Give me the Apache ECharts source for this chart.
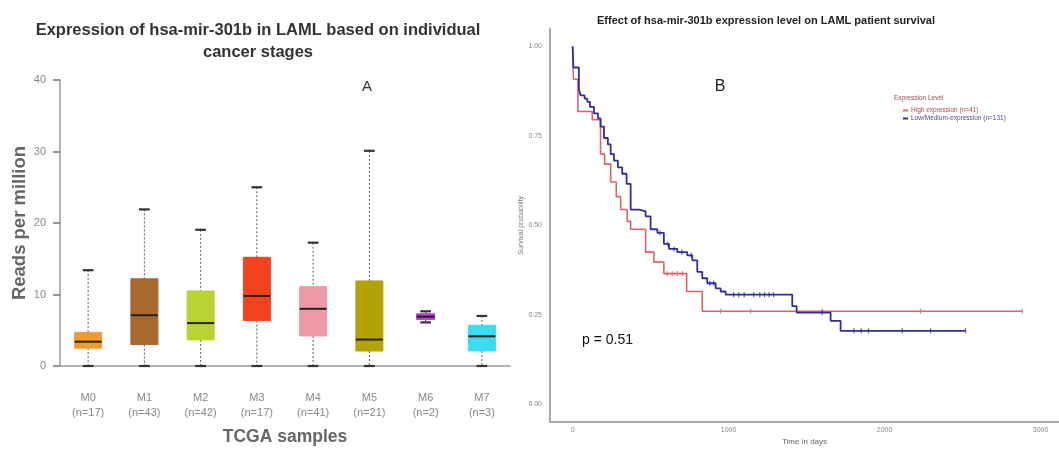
<!DOCTYPE html>
<html><head><meta charset="utf-8">
<script src="https://cdn.jsdelivr.net/npm/echarts@6/dist/echarts.min.js"></script>
<style>html,body{margin:0;padding:0;background:#fff}#c{width:1059px;height:451px}</style>
</head><body><div id="c"></div>
<script>
// ---------- Panel A: box plot data ----------
const stages = ['M0','M1','M2','M3','M4','M5','M6','M7'];
const stageN = [17,43,42,17,41,21,2,3];
const boxMin = [0,0,0,0,0,0,6.1,0];
const boxQ1 = [2.5,3.0,3.65,6.35,4.2,2.1,6.5,2.1];
const boxMedian = [3.4,7.1,6.0,9.8,8.0,3.7,6.9,4.15];
const boxQ3 = [4.7,12.2,10.5,15.2,11.1,11.9,7.3,5.7];
const boxMax = [13.4,21.9,19.05,25.0,17.25,30.1,7.65,7.0];
const yTicksA = [0,10,20,30,40];

// ---------- Panel B: Kaplan-Meier data ----------
const highTimes = [0,5,34,126,179,205,244,280,308,350,372,468,521,585,731,831,2883];
const highSurv  = [1,0.908,0.818,0.795,0.699,0.671,0.621,0.580,0.544,0.511,0.489,0.425,0.397,0.365,0.315,0.260,0.260];
const highCensor = [607,639,671,703,949,1141,1600,2231,2883];
const lowTimes = [0,5,40,51,77,94,111,137,162,179,201,226,244,265,290,318,346,372,425,468,500,543,585,618,671,735,767,799,831,863,917,949,981,1408,1436,1654,1718,2519];
const lowSurv  = [1,0.941,0.881,0.863,0.854,0.845,0.831,0.813,0.799,0.776,0.744,0.726,0.699,0.681,0.662,0.644,0.616,0.544,0.539,0.525,0.489,0.479,0.448,0.434,0.425,0.416,0.402,0.370,0.352,0.338,0.324,0.315,0.306,0.274,0.256,0.233,0.205,0.205];
const lowCensor = [560,610,650,700,760,880,905,1032,1065,1100,1160,1200,1230,1260,1288,1600,1803,1850,1897,2113,2295,2519];
const xTicksB = [0,1000,2000,3000];
const yTicksB = [0,0.25,0.5,0.75,1];
const seriesNames = ['High expression (n=41)','Low/Medium-expression (n=131)'];

// ---------- styles ----------
const boxColors = ['#f3992d','#a8692f','#b7d433','#f2431d','#ef98a8','#b4a205','#bf3bd6','#3adcf2'];
const narrowFactor = {M6: 0.32};
const redLine = '#e0606c';
const blueLine = '#2f2f98';
const FONT = '"Liberation Sans", Arial, sans-serif';

function survAt(times, surv, t) {
  let s = surv[0];
  for (let i = 0; i < times.length; i++) if (times[i] <= t) s = surv[i];
  return s;
}

function renderBox(params, api) {
  const i = api.value(0);
  const band = api.size([1, 0])[0];
  const w = band * (narrowFactor[stages[i]] || 0.48);
  const capW = band * 0.19;
  const cx = api.coord([i, 0])[0];
  const y = v => api.coord([i, v])[1];
  const yMin = y(api.value(1)), yQ1 = y(api.value(2)), yMed = y(api.value(3)),
        yQ3 = y(api.value(4)), yMax = y(api.value(5));
  const col = boxColors[i];
  const dash = {stroke:'#666', lineWidth:1.1, lineDash:[2,2]};
  const cap = {stroke:'#333', lineWidth:2.2};
  return {type:'group', children:[
    {type:'line', shape:{x1:cx,y1:yMax,x2:cx,y2:yQ3}, style:dash},
    {type:'line', shape:{x1:cx,y1:yQ1,x2:cx,y2:yMin}, style:dash},
    {type:'line', shape:{x1:cx-capW/2,y1:yMax,x2:cx+capW/2,y2:yMax}, style:cap},
    {type:'line', shape:{x1:cx-capW/2,y1:yMin,x2:cx+capW/2,y2:yMin}, style:cap},
    {type:'rect', shape:{x:cx-w/2,y:yQ3,width:w,height:Math.max(yQ1-yQ3,1)}, style:{fill:col, stroke:col, lineWidth:1}},
    {type:'line', shape:{x1:cx-w/2,y1:yMed,x2:cx+w/2,y2:yMed}, style:{stroke:'#222', lineWidth:2}}
  ]};
}

const chart = echarts.init(document.getElementById('c'), null, {renderer:'canvas'});
const option = {
  backgroundColor:'#fff',
  animation:false,
  grid:[
    {left:60, top:80, width:450, height:296},
    {left:550, top:28.5, width:509, height:400.5}
  ],
  xAxis:[
    {gridIndex:0, type:'category', data:stages, boundaryGap:true,
     axisLine:{lineStyle:{color:'#9a9a9a', width:1.5}}, axisTick:{show:false},
     axisLabel:{margin:24, color:'#888', fontSize:11, fontFamily:FONT, lineHeight:15,
       formatter:(v, idx) => v + '\n(n=' + stageN[idx] + ')'},
     name:'TCGA samples', nameLocation:'middle', nameGap:62,
     nameTextStyle:{color:'#666', fontSize:17.5, fontWeight:'bold', fontFamily:FONT}},
    {gridIndex:1, type:'value', min:-145, max:3118,
     axisLine:{onZero:false, lineStyle:{color:'#aaa', width:2}}, axisTick:{show:false}, splitLine:{show:false},
     axisLabel:{customValues:xTicksB, color:'#888', fontSize:7, fontFamily:FONT, margin:4,
       formatter:v => String(v)},
     name:'Time in days', nameLocation:'middle', nameGap:14,
     nameTextStyle:{color:'#666', fontSize:8, fontFamily:FONT}}
  ],
  yAxis:[
    {gridIndex:0, type:'value', min:yTicksA[0], max:yTicksA[yTicksA.length-1], interval:10,
     axisLine:{show:true, lineStyle:{color:'#9a9a9a', width:1.5}},
     axisTick:{show:true, length:7, lineStyle:{color:'#777', width:1.5}},
     splitLine:{show:false},
     axisLabel:{color:'#888', fontSize:11, fontFamily:FONT, margin:14},
     name:'Reads per million', nameLocation:'middle', nameGap:30,
     nameTextStyle:{color:'#666', fontSize:18.5, fontWeight:'bold', fontFamily:FONT}},
    {gridIndex:1, type:'value', min:-0.05, max:1.05,
     axisLine:{show:true, onZero:false, lineStyle:{color:'#aaa', width:2}},
     axisTick:{show:false}, splitLine:{show:false},
     axisLabel:{customValues:yTicksB, color:'#888', fontSize:7, fontFamily:FONT, margin:8,
       formatter:v => Number(v).toFixed(2)},
     name:'Survival probability', nameLocation:'middle', nameGap:22,
     nameTextStyle:{color:'#777', fontSize:7, fontFamily:FONT}}
  ],
  legend:{
    data:[
      {name:seriesNames[0], textStyle:{color:'#b04848'}},
      {name:seriesNames[1], textStyle:{color:'#4a4a9a'}}
    ],
    orient:'vertical', left:898, top:102, itemGap:1, itemWidth:5, itemHeight:2,
    icon:'rect', textStyle:{fontSize:6.5, fontFamily:FONT, padding:[0,0,0,-2]}
  },
  graphic:[
    {type:'text', x:258, y:30, style:{text:'Expression of hsa-mir-301b in LAML based on individual', font:'bold 16.5px ' + FONT, fill:'#333', align:'center', verticalAlign:'middle'}},
    {type:'text', x:258, y:52, style:{text:'cancer stages', font:'bold 16.5px ' + FONT, fill:'#333', align:'center', verticalAlign:'middle'}},
    {type:'text', x:367, y:87, style:{text:'A', font:'15px ' + FONT, fill:'#333', align:'center', verticalAlign:'middle'}},
    {type:'text', x:766, y:21, style:{text:'Effect of hsa-mir-301b expression level on LAML patient survival', font:'bold 11px ' + FONT, fill:'#222', align:'center', verticalAlign:'middle'}},
    {type:'text', x:720, y:87, style:{text:'B', font:'16px ' + FONT, fill:'#222', align:'center', verticalAlign:'middle'}},
    {type:'text', x:582, y:340, style:{text:'p = 0.51', font:'14px ' + FONT, fill:'#111', align:'left', verticalAlign:'middle'}},
    {type:'text', x:894, y:98, style:{text:'Expression Level', font:'6.5px ' + FONT, fill:'#a04848', align:'left', verticalAlign:'middle'}}
  ],
  series:[
    {type:'custom', xAxisIndex:0, yAxisIndex:0, renderItem:renderBox,
     encode:{x:0, y:[1,2,3,4,5]},
     data:stages.map((s,i)=>[i, boxMin[i], boxQ1[i], boxMedian[i], boxQ3[i], boxMax[i]])},
    {type:'line', name:seriesNames[0], xAxisIndex:1, yAxisIndex:1, step:'end', symbol:'none',
     color:redLine, lineStyle:{color:redLine, width:1.6},
     data:highTimes.map((t,i)=>[t, highSurv[i]])},
    {type:'line', name:seriesNames[1], xAxisIndex:1, yAxisIndex:1, step:'end', symbol:'none',
     color:blueLine, lineStyle:{color:blueLine, width:1.8}, z:3,
     data:lowTimes.map((t,i)=>[t, lowSurv[i]])},
    {type:'scatter', xAxisIndex:1, yAxisIndex:1, symbol:'rect', symbolSize:[1.2,5],
     itemStyle:{color:redLine}, data:highCensor.map(t=>[t, survAt(highTimes, highSurv, t)])},
    {type:'scatter', xAxisIndex:1, yAxisIndex:1, symbol:'rect', symbolSize:[1.2,5], z:4,
     itemStyle:{color:blueLine}, data:lowCensor.map(t=>[t, survAt(lowTimes, lowSurv, t)])}
  ]
};
chart.setOption(option);
</script>
</body></html>
